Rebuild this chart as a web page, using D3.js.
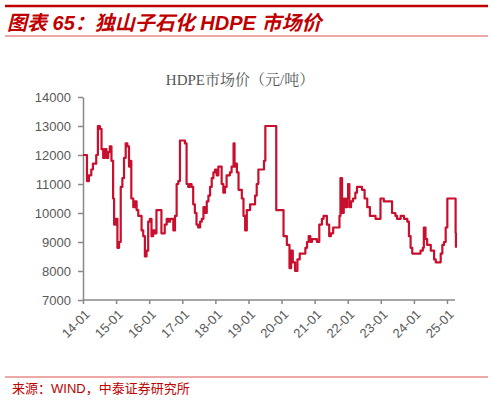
<!DOCTYPE html>
<html>
<head>
<meta charset="utf-8">
<script src="https://cdn.jsdelivr.net/npm/d3@7"></script>
<style>
  body { margin: 0; background: #fff; }
  svg { font-family: "Liberation Sans", Arial, sans-serif; }
</style>
</head>
<body>
<svg id="drawing_region"></svg>
<script>
// decimal years since 2014-01 and price (元/吨)
const offsets = [0.00,0.08,0.12,0.18,0.25,0.30,0.35,0.40,0.45,0.51,0.56,0.61,0.66,0.71,0.76,0.81,0.86,0.91,0.94,0.99,
  1.04,1.09,1.14,1.19,1.24,1.29,1.34,1.39,1.43,1.46,1.52,1.57,1.62,1.67,1.72,1.77,1.82,1.87,1.92,1.97,
  2.02,2.07,2.12,2.17,2.22,2.32,2.37,2.42,2.47,2.53,2.58,2.63,2.73,2.78,2.83,2.88,2.93,
  3.03,3.08,3.13,3.18,3.23,3.28,3.33,3.38,3.43,3.48,3.54,3.59,3.64,3.69,3.74,3.79,3.84,3.89,3.94,3.99,
  4.04,4.09,4.14,4.19,4.24,4.29,4.34,4.44,4.49,4.55,4.58,4.62,4.65,4.70,4.80,4.85,4.90,4.95,
  5.05,5.15,5.20,5.25,5.30,5.45,5.47,5.51,5.81,5.84,
  6.01,6.06,6.16,6.24,6.29,6.34,6.41,6.48,6.55,6.67,6.72,6.77,6.82,6.87,6.92,
  7.07,7.14,7.22,7.27,7.37,7.44,7.49,7.56,7.70,7.75,7.78,7.83,7.88,7.93,7.98,
  8.01,8.05,8.10,8.16,8.23,8.28,8.43,8.51,8.59,8.67,8.84,8.94,8.99,
  9.09,9.29,9.34,9.44,9.49,9.60,9.70,9.80,9.85,9.90,9.95,
  10.20,10.27,10.30,10.35,10.40,10.51,10.61,10.66,10.76,10.81,10.86,10.91,10.96,
  11.01,11.19,11.26,11.27];
const prices = [12000,12000,11100,11300,11500,11700,11700,12000,13000,12900,12200,11900,12200,11900,12100,12300,11800,10500,9600,9800,
  8800,9000,10900,11200,11900,12400,12300,11600,11800,10500,10200,10400,10100,9900,9900,9400,9200,8500,8700,9700,
  9800,9200,9400,9300,10100,10100,9300,9300,9600,9800,9700,9800,9400,9900,11000,11100,12500,
  12500,12400,11000,10900,11000,10900,10300,10000,9600,9500,9700,9800,10200,10000,10400,10600,10900,11200,11400,11500,
  11300,11600,11600,11000,10700,10900,11300,11400,11600,12400,11600,11700,11400,10800,10500,9900,9400,10100,
  10300,10300,10600,11000,11500,11500,11800,13000,13000,10100,
  10100,9200,8900,8100,8700,8300,8000,8400,8600,8600,8800,9000,9200,9000,9100,
  9000,9600,9800,9900,9600,9200,9300,9500,9500,9900,11200,10000,10500,10200,10500,
  11000,10200,10400,10500,10700,10900,10800,10500,10200,9900,9800,9800,10500,
  10400,10400,10000,9900,9800,9900,9800,9700,9200,8800,8600,
  8700,8800,9500,9100,8900,8700,8400,8300,8300,8600,8900,9000,9500,
  10500,10500,9300,8800];
const tickLabels = ["14-01","15-01","16-01","17-01","18-01","19-01","20-01","21-01","22-01","23-01","24-01","25-01"];
const yTicks = [7000,8000,9000,10000,11000,12000,13000,14000];

const W = 493, H = 400;
const red = "#c00000";
const svg = d3.select("#drawing_region").attr("width", W).attr("height", H);

// header
svg.append("line").attr("x1", 5).attr("x2", 488).attr("y1", 6).attr("y2", 6)
  .attr("stroke", red).attr("stroke-width", 2.5);
svg.append("text").attr("x", 7).attr("y", 30)
  .attr("fill", red).style("font-size", "20px").style("font-weight", "bold").style("font-style", "italic")
  .style("font-family", "'Liberation Sans','Noto Sans CJK SC',sans-serif")
  .text("图表 65：独山子石化 HDPE 市场价");
svg.append("line").attr("x1", 5).attr("x2", 488).attr("y1", 36).attr("y2", 36)
  .attr("stroke", "#d9534f").attr("stroke-width", 1);

svg.append("text").attr("x", 240).attr("y", 85).attr("text-anchor", "middle")
  .attr("fill", "#555").style("font-size", "15px")
  .style("font-family", "'Liberation Serif','Noto Serif CJK SC','Noto Sans CJK SC',serif")
  .text("HDPE市场价（元/吨）");

const x = d3.scaleLinear().domain([0, 11]).range([83, 447]);
const y = d3.scaleLinear().domain([7000, 14000]).range([300, 97]);

const yAxis = svg.append("g").attr("transform", "translate(83,0)")
  .call(d3.axisLeft(y).tickValues(yTicks).tickSize(5).tickSizeOuter(0).tickFormat(d3.format("d")));
const xAxis = svg.append("g").attr("transform", "translate(0,300)")
  .call(d3.axisBottom(x).tickValues(d3.range(12)).tickSize(4).tickSizeOuter(0).tickFormat((d, i) => tickLabels[i]));
xAxis.select(".domain").attr("d", "M83,0H455");
[yAxis, xAxis].forEach(a => {
  a.select(".domain").attr("stroke", "#888").attr("stroke-width", 1.5);
  a.selectAll(".tick line").attr("stroke", "#888").attr("stroke-width", 1.5);
  a.selectAll("text").attr("fill", "#595959").style("font-size", "13px");
});
yAxis.selectAll("text").attr("x", -12);
xAxis.selectAll("text").attr("text-anchor", "end").attr("dy", "0.35em")
  .attr("transform", "translate(4,12) rotate(-45)").attr("y", 0).attr("x", 0);

const pts = offsets.map((o, i) => [o, prices[i]]);
svg.append("path").datum(pts)
  .attr("fill", "none").attr("stroke", "#c8102e").attr("stroke-width", 2.2)
  .attr("stroke-linejoin", "round")
  .attr("d", d3.line().curve(d3.curveStepAfter).x(d => x(d[0])).y(d => y(d[1])));

// footer
svg.append("line").attr("x1", 5).attr("x2", 488).attr("y1", 377).attr("y2", 377)
  .attr("stroke", "#d9534f").attr("stroke-width", 1);
svg.append("text").attr("x", 12).attr("y", 393).attr("fill", red).style("font-size", "13px")
  .style("font-family", "'Liberation Sans','Noto Sans CJK SC',sans-serif")
  .text("来源：WIND，中泰证券研究所");
</script>
</body>
</html>
